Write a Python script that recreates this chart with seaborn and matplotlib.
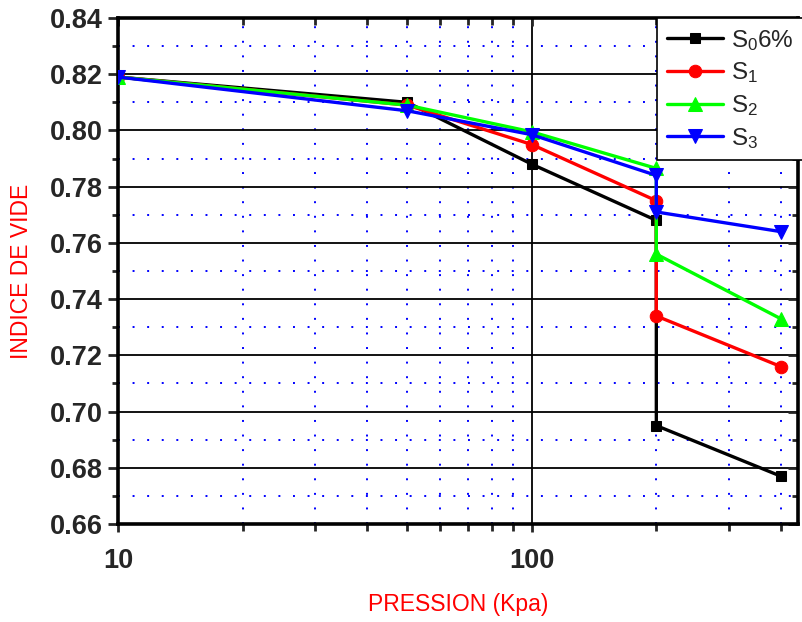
import numpy as np
import pandas as pd
import matplotlib
matplotlib.use("Agg")
import matplotlib.pyplot as plt
import matplotlib.ticker as mticker
import seaborn as sns

# ---- data ----
pression = [10, 50, 100, 200, 200, 400]
s0 = [0.819, 0.810, 0.788, 0.768, 0.695, 0.677]
s1 = [0.819, 0.809, 0.795, 0.775, 0.734, 0.716]
s2 = [0.819, 0.809, 0.7995, 0.7865, 0.756, 0.733]
s3 = [0.819, 0.807, 0.7985, 0.784, 0.771, 0.764]
series_names = [r"S$_0$6%", r"S$_1$", r"S$_2$", r"S$_3$"]
series_values = [s0, s1, s2, s3]
colors = ["#000000", "#FF0000", "#00FF00", "#0000FF"]
markers = ["s", "o", "^", "v"]
msizes = [7.5, 9, 9.5, 9.5]
y_ticks = [0.66, 0.68, 0.70, 0.72, 0.74, 0.76, 0.78, 0.80, 0.82, 0.84]
x_ticks = [10, 100]

sns.set_theme(style="white")
plt.rcParams["font.family"] = ["Liberation Sans", "DejaVu Sans"]
plt.rcParams["mathtext.fontset"] = "custom"
plt.rcParams["mathtext.rm"] = "Liberation Sans"
plt.rcParams["mathtext.it"] = "Liberation Sans"
plt.rcParams["mathtext.default"] = "regular"

fig = plt.figure(figsize=(8.03, 6.22), dpi=100)
ax = fig.add_axes([118/803, 1-524/622, (798-118)/803, (524-18)/622])

for name, vals, c, m, ms in zip(series_names, series_values, colors, markers, msizes):
    df = pd.DataFrame({"x": pression, "y": vals})
    sns.lineplot(data=df, x="x", y="y", estimator=None, sort=False, color=c,
                 marker=m, markersize=ms, markeredgecolor=c, linewidth=2.4,
                 label=name, ax=ax, zorder=5)

ax.set_xscale("log")
ax.set_xlim(10, 440)
ax.set_ylim(0.66, 0.84)
ax.set_xticks(x_ticks)
ax.xaxis.set_major_formatter(mticker.FixedFormatter([str(v) for v in x_ticks]))
ax.xaxis.set_minor_locator(mticker.LogLocator(base=10, subs=np.arange(2, 10)))
ax.xaxis.set_minor_formatter(mticker.NullFormatter())
ax.set_yticks(y_ticks)
ax.yaxis.set_major_formatter(mticker.FormatStrFormatter("%.2f"))
ax.yaxis.set_minor_locator(mticker.MultipleLocator(0.01))

# grids
ax.grid(which="major", color="black", linewidth=1.3, linestyle="-", zorder=1)
ax.grid(which="minor", color="#0000FF", linewidth=1.4, linestyle=(0, (1, 6.5)), zorder=1)
ax.set_axisbelow(True)

for s in ax.spines.values():
    s.set_linewidth(2.6)
    s.set_color("black")
    s.set_visible(True)

ax.tick_params(axis="y", which="major", direction="out", length=7, width=2, left=True,
               labelsize=19.5, pad=4)
ax.tick_params(axis="y", which="minor", direction="out", length=4, width=2, left=True)
ax.tick_params(axis="y", which="both", right=True)
ax.tick_params(axis="x", which="major", direction="out", length=6, width=2, bottom=True,
               labelsize=19.5, pad=11)
ax.tick_params(axis="x", which="minor", direction="out", length=5, width=2, bottom=True)
ax.tick_params(axis="x", which="both", top=True)
# inward ticks on top/right
for t in ax.xaxis.get_major_ticks() + ax.xaxis.get_minor_ticks():
    t.tick2line.set_marker(3)  # TICKDOWN
for t in ax.yaxis.get_major_ticks() + ax.yaxis.get_minor_ticks():
    t.tick2line.set_marker(0)  # TICKLEFT
for lab in ax.get_xticklabels() + ax.get_yticklabels():
    lab.set_fontweight("bold")

ax.set_xlabel("PRESSION (Kpa)", color="red", fontsize=16.5, labelpad=14)
ax.set_ylabel("INDICE DE VIDE", color="red", fontsize=16.5, labelpad=12)

leg = ax.legend(loc="upper left", bbox_to_anchor=(657/803, 1-18/622),
                bbox_transform=fig.transFigure, frameon=True, fancybox=False,
                fontsize=17.5, handlelength=2.3, handletextpad=0.35,
                borderaxespad=0, borderpad=0.4, labelspacing=0.32)
leg.get_frame().set_edgecolor("black")
leg.get_frame().set_linewidth(1.2)
leg.get_frame().set_alpha(1)
leg.set_zorder(10)

fig.savefig("out.png", dpi=100)
